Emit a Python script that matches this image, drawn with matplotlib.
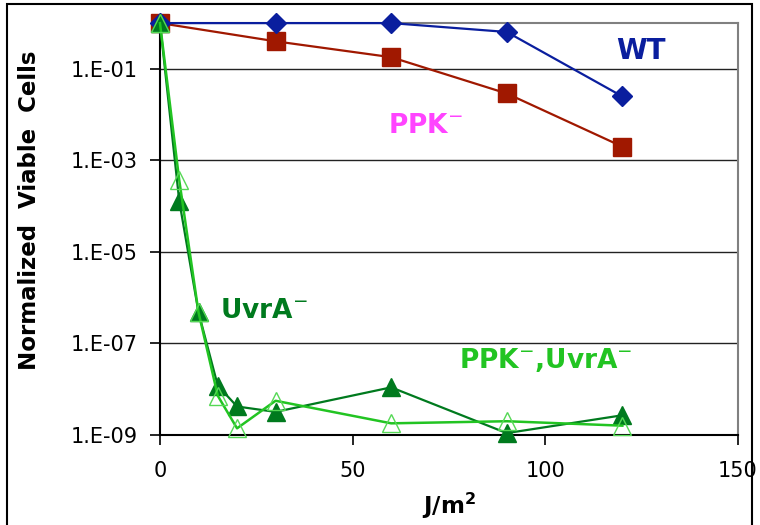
import numpy as np
import matplotlib
matplotlib.use('Agg')
import matplotlib.pyplot as plt
from matplotlib.patches import Rectangle
from matplotlib.ticker import FixedLocator, NullLocator

plt.rcParams['font.family'] = ['DejaVu Sans']

# dose in J/m^2
dose_main = [0, 30, 60, 90, 120]
wt = [1.0, 1.0, 1.0, 0.64, 0.025]
ppk = [1.0, 0.40, 0.18, 0.029, 0.002]

dose_uvr = [0, 5, 10, 15, 20, 30, 60, 90, 120]
uvra = [1.0, 1.3e-4, 4.8e-7, 1.2e-8, 4.2e-9, 3.2e-9, 1.1e-8, 1.1e-9, 2.7e-9]
ppk_uvra = [1.0, 3.7e-4, 4.8e-7, 7.2e-9, 1.4e-9, 5.6e-9, 1.8e-9, 2.0e-9, 1.6e-9]

yticks = [1e-9, 1e-7, 1e-5, 1e-3, 1e-1]
ytick_labels = ['1.E-09', '1.E-07', '1.E-05', '1.E-03', '1.E-01']
xticks = [0, 50, 100, 150]

c_wt = '#0A1E9E'
c_ppk = '#A01800'
c_uvr = '#007A1E'
c_dbl = '#22C422'

fig = plt.figure(figsize=(7.6, 5.25), dpi=100)
ax = fig.add_axes([0.2105, 0.1714, 0.7605, 0.7846])

ax.plot(dose_main, wt, color=c_wt, lw=1.6, marker='D', ms=10, zorder=4, clip_on=False)
ax.plot(dose_main, ppk, color=c_ppk, lw=1.6, marker='s', ms=13.5, zorder=3, clip_on=False)
ax.plot(dose_uvr, uvra, color=c_uvr, lw=1.6, marker='^', ms=13, zorder=5, clip_on=False)
ax.plot(dose_uvr, ppk_uvra, color=c_dbl, lw=1.8, marker='^', ms=13,
        mfc='none', mec='#55D855', mew=1.0, zorder=6, clip_on=False)

ax.set_yscale('log')
ax.set_ylim(1e-9, 1)
ax.set_xlim(0, 150)
ax.yaxis.set_major_locator(FixedLocator(yticks))
ax.yaxis.set_minor_locator(NullLocator())
ax.set_yticklabels(ytick_labels)
ax.set_xticks(xticks)
ax.tick_params(axis='both', direction='out', labelsize=15, length=7, width=1.2, color='black')
ax.tick_params(axis='y', pad=9)
ax.tick_params(axis='x', pad=12)
ax.grid(axis='y', color='#222222', lw=1.0)
ax.set_axisbelow(True)

for s in ['top', 'right']:
    ax.spines[s].set_color('#808080')
    ax.spines[s].set_linewidth(1.5)
for s in ['left', 'bottom']:
    ax.spines[s].set_color('black')
    ax.spines[s].set_linewidth(1.5)

ax.set_ylabel('Normalized  Viable  Cells', fontsize=16.5, fontweight='bold')
ax.yaxis.set_label_coords(-0.205, 0.545)
ax.set_xlabel('J/m$^\\mathbf{2}$', fontsize=16.5, fontweight='bold', labelpad=7)

ax.text(0.832, 0.932, 'WT', transform=ax.transAxes, color=c_wt,
        fontsize=20, fontweight='bold', ha='center', va='center')
ax.text(0.46, 0.75, 'PPK$^{-}$', transform=ax.transAxes, color='#FF44FF',
        fontsize=19, fontweight='bold', ha='center', va='center')
ax.text(0.18, 0.30, 'UvrA$^{-}$', transform=ax.transAxes, color=c_uvr,
        fontsize=19, fontweight='bold', ha='center', va='center')
ax.text(0.667, 0.183, 'PPK$^{-}$,UvrA$^{-}$', transform=ax.transAxes, color=c_dbl,
        fontsize=19, fontweight='bold', ha='center', va='center')

fig.patches.append(Rectangle((7 / 760, -0.05), 745 / 760, 1.05 - 4 / 525,
                             transform=fig.transFigure, fill=False,
                             edgecolor='black', lw=1.5))

fig.savefig('out.png', dpi=100)
